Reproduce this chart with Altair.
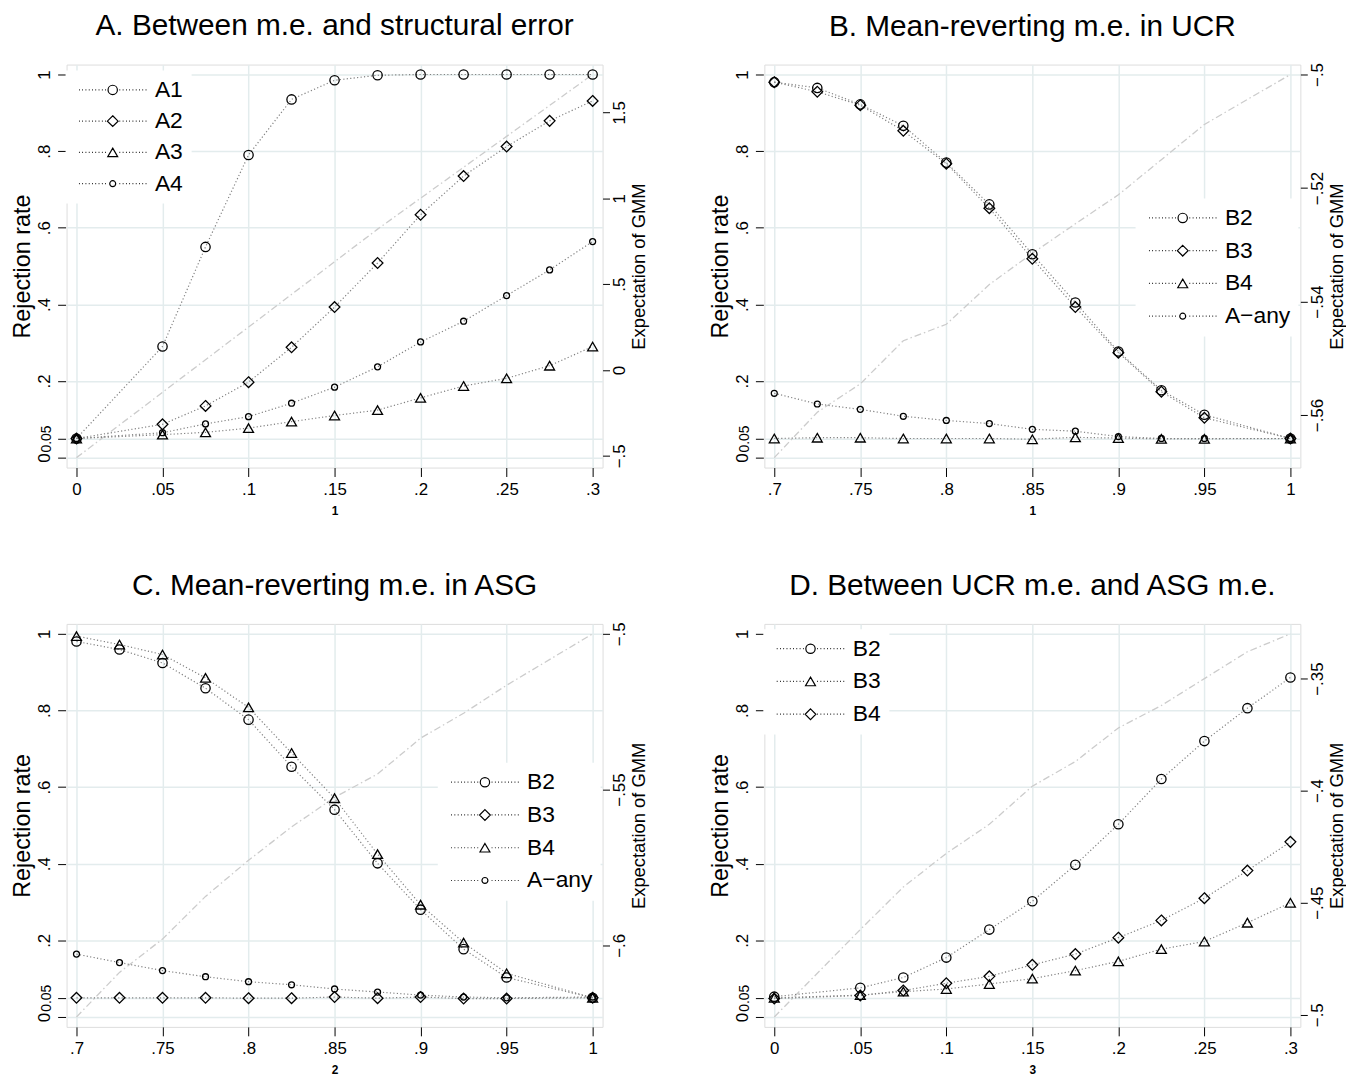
import altair as alt
import pandas as pd

# ---------------- data ----------------
x_lo = [0, 0.05, 0.075, 0.1, 0.125, 0.15, 0.175, 0.2, 0.225, 0.25, 0.275, 0.3]
x_hi = [0.7, 0.725, 0.75, 0.775, 0.8, 0.825, 0.85, 0.875, 0.9, 0.925, 0.95, 1.0]

# Panel A
A_names = ["A1", "A2", "A3", "A4"]
A_A1 = [0.05, 0.29, 0.55, 0.79, 0.935, 0.985, 0.998, 1.0, 1.0, 1.0, 1.0, 1.0]
A_A2 = [0.05, 0.087, 0.135, 0.197, 0.288, 0.393, 0.508, 0.634, 0.735, 0.812, 0.879, 0.931]
A_A3 = [0.05, 0.06, 0.066, 0.077, 0.094, 0.11, 0.124, 0.156, 0.187, 0.207, 0.24, 0.29]
A_A4 = [0.05, 0.065, 0.088, 0.107, 0.142, 0.184, 0.237, 0.302, 0.356, 0.423, 0.49, 0.564]
A_gmm = [-0.51, -0.13, 0.06, 0.25, 0.44, 0.63, 0.82, 1.0, 1.18, 1.36, 1.54, 1.72]

# Panel B
B_names = ["B2", "B3", "B4", "A\u2212any"]
B_B2 = [0.98, 0.965, 0.922, 0.866, 0.77, 0.661, 0.531, 0.405, 0.277, 0.176, 0.112, 0.05]
B_B3 = [0.98, 0.955, 0.92, 0.853, 0.767, 0.651, 0.519, 0.393, 0.274, 0.172, 0.104, 0.05]
B_B4 = [0.05, 0.052, 0.052, 0.05, 0.05, 0.05, 0.048, 0.053, 0.051, 0.049, 0.049, 0.05]
B_Aany = [0.168, 0.14, 0.126, 0.108, 0.097, 0.089, 0.074, 0.069, 0.055, 0.05, 0.05, 0.05]
B_gmm = [-0.5675, -0.5595, -0.5545, -0.5469, -0.544, -0.537, -0.5315, -0.5263, -0.5212, -0.515, -0.5088, -0.5]

# Panel C
C_names = ["B2", "B3", "B4", "A\u2212any"]
C_B2 = [0.98, 0.959, 0.924, 0.858, 0.776, 0.653, 0.541, 0.401, 0.28, 0.177, 0.103, 0.05]
C_B3 = [0.05, 0.05, 0.05, 0.05, 0.049, 0.049, 0.052, 0.049, 0.052, 0.048, 0.048, 0.05]
C_B4 = [0.994, 0.972, 0.946, 0.885, 0.808, 0.689, 0.571, 0.425, 0.293, 0.194, 0.114, 0.05]
C_Aany = [0.164, 0.142, 0.121, 0.105, 0.092, 0.084, 0.073, 0.065, 0.057, 0.052, 0.05, 0.052]
C_gmm = [-0.623, -0.6087, -0.598, -0.5843, -0.5727, -0.562, -0.5525, -0.545, -0.5335, -0.5255, -0.5165, -0.5]

# Panel D
D_names = ["B2", "B3", "B4"]
D_B2 = [0.053, 0.076, 0.103, 0.155, 0.228, 0.302, 0.397, 0.503, 0.621, 0.72, 0.806, 0.886]
D_B3 = [0.05, 0.057, 0.066, 0.073, 0.086, 0.1, 0.121, 0.145, 0.177, 0.197, 0.246, 0.298]
D_B4 = [0.048, 0.056, 0.069, 0.088, 0.106, 0.136, 0.164, 0.207, 0.252, 0.31, 0.382, 0.457]
D_gmm = [-0.501, -0.462, -0.443, -0.428, -0.415, -0.398, -0.387, -0.372, -0.362, -0.35, -0.338, -0.33]

# tick values
left_ticks = [0, 0.05, 0.2, 0.4, 0.6, 0.8, 1]
x_lo_ticks = [0, 0.05, 0.1, 0.15, 0.2, 0.25, 0.3]
x_hi_ticks = [0.7, 0.75, 0.8, 0.85, 0.9, 0.95, 1]
A_gticks = [-0.5, 0, 0.5, 1, 1.5]
B_gticks = [-0.56, -0.54, -0.52, -0.5]
C_gticks = [-0.6, -0.55, -0.5]
D_gticks = [-0.5, -0.45, -0.4, -0.35]

# ---------------- styling ----------------
FONT = "Liberation Sans"
GRID = "#e3eced"
LINE_GRAY = "#808080"
GMM_GRAY = "#cccccc"
W, H = 540, 406
PAD = 10  # inner padding of plot region, px


def circle(r):
    return f"M{r},0A{r},{r} 0 1,1 {-r},0A{r},{r} 0 1,1 {r},0Z"


def diamond(r):
    return f"M0,{-r}L{r},0L0,{r}L{-r},0Z"


def triangle(r):
    h = round(0.866 * r, 3)
    return f"M0,{-h}L{r},{h}L{-r},{h}Z"


MARK = {
    "big": circle(0.94),
    "diamond": diamond(1.08),
    "triangle": triangle(1.0),
    "small": circle(0.6),
}


def dots(a, b, step, length):
    out = []
    v = a
    while v <= b + 1e-9:
        out.append(f"M{round(v, 3)},0h{length}")
        v += step
    return "".join(out)


LEG_LINE = dots(-6.8, -1.5, 0.66, 0.16) + dots(1.35, 6.7, 0.66, 0.16)

LBL = "replace(format(datum.value, ''), '0.', '.')"
LEFT_LBL = "datum.value == 0.05 ? '0.05' : " + LBL


def panel(title, xs, names, values, marks, gmm, xticks, gticks, xtitle, lx, ly, rp, toff):
    rows = []
    for nm, vals in zip(names, values):
        for xv, v in zip(xs, vals):
            rows.append({"x": xv, "value": v, "series": nm})
    df = pd.DataFrame(rows)
    gdf = pd.DataFrame({"x": xs, "gmm": gmm})

    x0, x1 = min(xs), max(xs)
    xp = (x1 - x0) * PAD / (W - 2 * PAD)
    yp = PAD / (H - 2 * PAD)
    g0, g1 = min(gmm), max(gmm)
    gp = (g1 - g0) * PAD / (H - 2 * PAD)

    xenc = alt.X(
        "x:Q",
        scale=alt.Scale(domain=[x0 - xp, x1 + xp], nice=False, zero=False),
        axis=alt.Axis(
            values=xticks, labelExpr=LBL, title=xtitle, grid=True, gridColor=GRID,
            gridWidth=1.5, domain=False, tickSize=9, tickColor="black", tickWidth=1,
            labelFont=FONT, labelFontSize=17, labelColor="black", labelPadding=5,
            labelFlush=False, labelOverlap=False, titleFont=FONT, titleFontSize=12,
            titleFontWeight="bold", titleColor="black", titlePadding=8,
        ),
    )
    yscale = alt.Scale(domain=[-yp, 1 + yp], nice=False, zero=False)

    gmm_layer = alt.Chart(gdf).mark_line(
        color=GMM_GRAY, strokeWidth=1.3, strokeDash=[7, 3, 1.5, 3]
    ).encode(
        x=xenc,
        y=alt.Y(
            "gmm:Q",
            scale=alt.Scale(domain=[g0 - gp, g1 + gp], nice=False, zero=False),
            axis=alt.Axis(
                orient="right", values=gticks, labelExpr=LBL, title="Expectation of GMM",
                grid=False, domain=False, tickSize=7, tickColor="black", offset=0,
                labelAngle=270, labelAlign="center", labelBaseline="top", labelPadding=2,
                labelFont=FONT, labelFontSize=17, labelColor="black", labelFlush=False,
                labelOverlap=False, titleAngle=270, titleBaseline="top", titleFont=FONT,
                titleFontSize=18.5, titleFontWeight="normal", titleColor="black",
                titlePadding=2,
            ),
        ),
    )

    line_layer = alt.Chart(df).mark_line(
        color=LINE_GRAY, strokeWidth=1.2, strokeDash=[1.2, 2.3]
    ).encode(
        x=xenc,
        y=alt.Y(
            "value:Q", scale=yscale,
            axis=alt.Axis(
                orient="left", values=left_ticks, labelExpr=LEFT_LBL, title="Rejection rate",
                grid=True, gridColor=GRID, gridWidth=1.5, domain=False, tickSize=8,
                tickColor="black", offset=1, labelAngle=270, labelAlign="center",
                labelBaseline="bottom", labelPadding=4, labelFont=FONT,
                labelFontSize={"condition": {"test": "datum.value == 0.05", "value": 14},
                               "value": 17},
                labelColor="black", labelFlush=False, labelOverlap=False, titleFont=FONT,
                titleFontSize=23.5, titleFontWeight="normal", titleColor="black",
                titlePadding=1,
            ),
        ),
        detail="series:N",
    )

    point_layer = alt.Chart(df).mark_point(
        filled=False, color="black", strokeWidth=1.3, size=100, opacity=1
    ).encode(
        x=xenc,
        y=alt.Y("value:Q", scale=yscale, axis=None),
        shape=alt.Shape(
            "series:N",
            scale=alt.Scale(domain=names, range=[MARK[m] for m in marks]),
            legend=None,
        ),
    )

    legend_layer = alt.Chart(df).mark_point(
        filled=False, color="black", size=100, opacity=0
    ).encode(
        x=xenc,
        y=alt.Y("value:Q", scale=yscale, axis=None),
        shape=alt.Shape(
            "series:N",
            scale=alt.Scale(domain=names, range=[MARK[m] + LEG_LINE for m in marks]),
            legend=alt.Legend(
                title=None, orient="none", legendX=lx, legendY=ly, fillColor="white",
                padding=8, rowPadding=rp, symbolSize=100, symbolOffset=28,
                labelOffset=31, symbolStrokeColor="black", symbolStrokeWidth=1.2,
                symbolOpacity=1, symbolFillColor="transparent", labelFont=FONT,
                labelFontSize=23, labelColor="black", labelLimit=300,
            ),
        ),
    )

    return (
        alt.layer(gmm_layer, line_layer, point_layer, legend_layer)
        .resolve_scale(y="independent", shape="independent")
        .properties(
            width=W, height=H,
            title=alt.TitleParams(
                title, font=FONT, fontSize=30, fontWeight="normal", color="black",
                anchor="middle", baseline="alphabetic", offset=toff,
            ),
        )
    )


pA = panel("A. Between m.e. and structural error", x_lo, A_names,
           [A_A1, A_A2, A_A3, A_A4], ["big", "diamond", "triangle", "small"],
           A_gmm, x_lo_ticks, A_gticks, "1", -1, 6, 7.5, 0)
pB = panel("B. Mean-reverting m.e. in UCR", x_hi, B_names,
           [B_B2, B_B3, B_B4, B_Aany], ["big", "diamond", "triangle", "small"],
           B_gmm, x_hi_ticks, B_gticks, "1", 374, 135, 9, -3)
pC = panel("C. Mean-reverting m.e. in ASG", x_hi, C_names,
           [C_B2, C_B3, C_B4, C_Aany], ["big", "diamond", "triangle", "small"],
           C_gmm, x_hi_ticks, C_gticks, "2", 374, 140, 9, -3)
pD = panel("D. Between UCR m.e. and ASG m.e.", x_lo, D_names,
           [D_B2, D_B3, D_B4], ["big", "triangle", "diamond"],
           D_gmm, x_lo_ticks, D_gticks, "3", -1, 5.5, 9, -1)

chart = (
    alt.vconcat(
        alt.hconcat(pA, pB, spacing=60),
        alt.hconcat(pC, pD, spacing=60),
        spacing=53.5,
    )
    .configure_view(stroke=None)
    .configure(background="white",
               padding={"top": -2, "left": 2, "right": 0, "bottom": -2})
)

chart.save("out.html", embed_options={"renderer": "svg", "actions": False})
